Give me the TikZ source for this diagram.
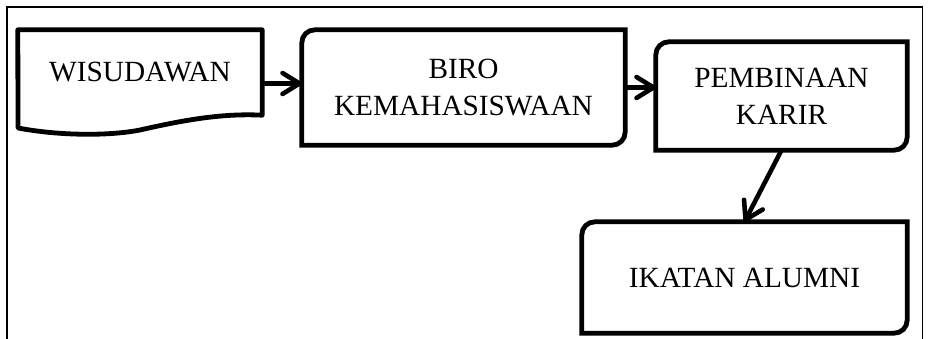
\documentclass[tikz,border=0pt]{standalone}
\usepackage{fontspec}
\setmainfont{Liberation Serif}
\usetikzlibrary{arrows.meta,calc}
\tikzset{
  boxline/.style={line width=4.8pt},
  txt/.style={inner sep=0pt,align=center,font=\fontsize{29.3}{37}\selectfont},
  arr/.style={line width=4.6pt,-{Straight Barb[length=17pt,width=21pt,round]}},
  frame/.style={line width=1.4pt}
}
\newcommand\diagoutline[2]{%
  \draw[boxline] (#1.south west) -- ([yshift=-#2]#1.north west)
    arc[start angle=180,end angle=90,radius=#2] -- (#1.north east)
    -- ([yshift=#2]#1.south east)
    arc[start angle=0,end angle=-90,radius=#2] -- cycle;}
\begin{document}
\begin{tikzpicture}[x=1pt,y=1pt]
\useasboundingbox (0,0) rectangle (930,339);
\draw[frame] (7,0) -- (7,332) -- (922.5,332) -- (922.5,0);
% nodes
\node[txt,minimum width=244pt,minimum height=85pt] (wis) at (140,266.5) {WISUDAWAN};
\node[txt,minimum width=323pt,minimum height=115pt] (biro) at (463.5,251.5) {BIRO\\KEMAHASISWAAN};
\node[txt,minimum width=251pt,minimum height=108pt] (pem) at (781.5,243) {PEMBINAAN\\KARIR};
\node[txt,minimum width=325pt,minimum height=111pt] (ika) at (744.5,61.5) {IKATAN ALUMNI};
% document shape
\draw[boxline,line join=round] (wis.south east) -- (wis.north east) -- (wis.north west) -- (18,211)
  .. controls (60,203) and (110,203) .. (140,209)
  .. controls (180,218) and (220,226) .. (wis.south east) -- cycle;
\diagoutline{biro}{13pt}
\diagoutline{pem}{13pt}
\diagoutline{ika}{13pt}
% connectors
\draw[arr] ([yshift=-11pt]wis.east) -- ([yshift=-11pt]wis.east -| biro.west);
\draw[arr] (biro.east) -- (biro.east -| pem.west);
\draw[arr] (pem.south) -- (ika.north);
\end{tikzpicture}
\end{document}
